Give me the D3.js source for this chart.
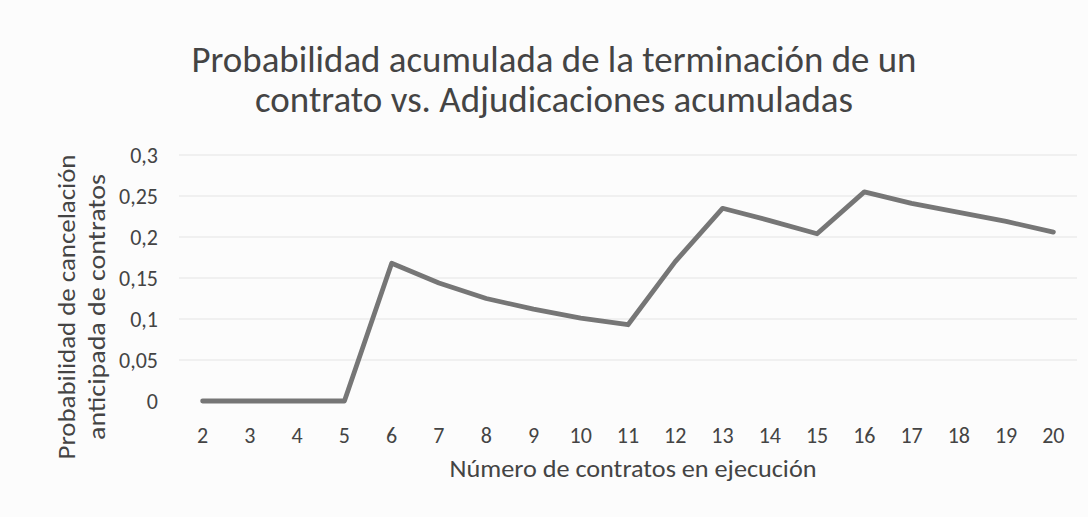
<!DOCTYPE html>
<html>
<head>
<meta charset="utf-8">
<script src="https://cdn.jsdelivr.net/npm/d3@7"></script>
<style>
  html, body { margin: 0; padding: 0; background: #fcfcfc; }
  svg { display: block; }
  text { font-family: Carlito, Calibri, "Open Sans", sans-serif; fill: #444444; }
</style>
</head>
<body>
<svg id="chart" width="1088" height="517"></svg>
<script>
// Number of contracts in execution (category axis)
const contratos = [2, 3, 4, 5, 6, 7, 8, 9, 10, 11, 12, 13, 14, 15, 16, 17, 18, 19, 20];
// Cumulative probability of early contract termination
const probabilidad = [0, 0, 0, 0, 0.168, 0.144, 0.125, 0.112, 0.101, 0.093, 0.17, 0.235, 0.22, 0.204, 0.255, 0.241, 0.23, 0.219, 0.206];
// Value axis ticks
const yTicks = [0, 0.05, 0.1, 0.15, 0.2, 0.25, 0.3];

const titleLines = ["Probabilidad acumulada de la terminación de un", "contrato vs. Adjudicaciones acumuladas"];
const yTitleLines = ["Probabilidad de cancelación", "anticipada de contratos"];
const xTitle = "Número de contratos en ejecución";

const svg = d3.select("#chart");
const plot = { left: 179, right: 1077, top: 155, bottom: 401 };

const x = d3.scaleBand().domain(contratos).range([plot.left, plot.right]).padding(0);
const y = d3.scaleLinear().domain([0, 0.3]).range([plot.bottom, plot.top]);
const fmt = v => String(+v.toFixed(2)).replace(".", ",");

// Horizontal gridlines
svg.append("g")
  .selectAll("line")
  .data(yTicks.filter(d => d > 0))
  .join("line")
  .attr("x1", plot.left).attr("x2", plot.right)
  .attr("y1", d => y(d)).attr("y2", d => y(d))
  .attr("stroke", "#e4e4e4").attr("stroke-width", 1);

// Y axis labels
const yAxis = svg.append("g")
  .attr("transform", `translate(${plot.left - 21},0)`)
  .call(d3.axisLeft(y).tickValues(yTicks).tickFormat(fmt).tickSize(0).tickPadding(0));
yAxis.select(".domain").remove();
yAxis.selectAll("text")
  .attr("font-size", 22)
  .attr("dy", "0.35em")
  .style("font-family", "Carlito, Calibri, 'Open Sans', sans-serif")
  .attr("fill", "#444444");

// X axis labels
const xAxis = svg.append("g")
  .attr("transform", `translate(0,${plot.bottom})`)
  .call(d3.axisBottom(x).tickSize(0).tickPadding(26));
xAxis.select(".domain").remove();
xAxis.selectAll("text")
  .attr("font-size", 22)
  .style("font-family", "Carlito, Calibri, 'Open Sans', sans-serif")
  .attr("fill", "#444444");

// Data line
const line = d3.line()
  .x((d, i) => x(contratos[i]) + x.bandwidth() / 2)
  .y(d => y(d))
  .curve(d3.curveLinear);

svg.append("path")
  .datum(probabilidad)
  .attr("d", line)
  .attr("fill", "none")
  .attr("stroke", "#767676")
  .attr("stroke-width", 4.8)
  .attr("stroke-linejoin", "round")
  .attr("stroke-linecap", "round");

// Chart title (two centred lines)
const titleWidths = [725, 598];
svg.append("g")
  .selectAll("text")
  .data(titleLines)
  .join("text")
  .attr("x", 554)
  .attr("y", (d, i) => 72 + i * 40)
  .attr("text-anchor", "middle")
  .attr("font-size", 36)
  .attr("textLength", (d, i) => titleWidths[i])
  .attr("lengthAdjust", "spacingAndGlyphs")
  .text(d => d);

// Y axis title (rotated, two lines)
const yTitleWidths = [305, 266];
svg.append("g")
  .attr("transform", "translate(0,307)")
  .selectAll("text")
  .data(yTitleLines)
  .join("text")
  .attr("transform", (d, i) => `translate(${75 + i * 30},0) rotate(-90)`)
  .attr("text-anchor", "middle")
  .attr("font-size", 25)
  .attr("textLength", (d, i) => yTitleWidths[i])
  .attr("lengthAdjust", "spacingAndGlyphs")
  .text(d => d);

// X axis title
svg.append("text")
  .attr("x", 633).attr("y", 477)
  .attr("text-anchor", "middle")
  .attr("font-size", 25)
  .attr("textLength", 367)
  .attr("lengthAdjust", "spacingAndGlyphs")
  .text(xTitle);
</script>
</body>
</html>
